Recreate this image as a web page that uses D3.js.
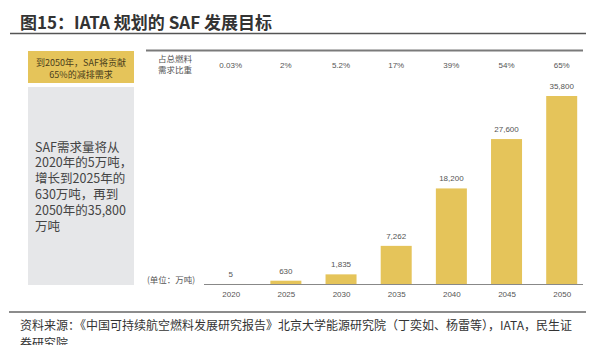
<!DOCTYPE html>
<html>
<head>
<meta charset="utf-8">
<script src="https://cdn.jsdelivr.net/npm/d3@7"></script>
<style>
  body { margin: 0; background: #fff; }
  svg { display: block; font-family: "Liberation Sans", Arial, "Noto Sans CJK SC", sans-serif; }
</style>
</head>
<body>
<svg width="597" height="345"></svg>
<script>
// data
let years = ["2020", "2025", "2030", "2035", "2040", "2045", "2050"];
let demand = [5, 630, 1835, 7262, 18200, 27600, 35800];
let demand_labels = ["5", "630", "1,835", "7,262", "18,200", "27,600", "35,800"];
let share_labels = ["0.03%", "2%", "5.2%", "17%", "39%", "54%", "65%"];

let note_lines = ["到2050年，SAF将贡献", "65%的减排需求"];
let box_lines = ["SAF需求量将从", "2020年的5万吨，", "增长到2025年的", "630万吨，再到", "2050年的35,800", "万吨"];

let bar_color = "#E5C45A";
let text_color = "#555";

let svg = d3.select("svg");

// titulo
svg.append("text")
  .attr("x", 20).attr("y", 29)
  .attr("font-size", 17).attr("font-weight", "bold")
  .attr("fill", "#333")
  .attr("font-family", "'Noto Sans CJK SC', sans-serif")
  .text("图15：IATA 规划的 SAF 发展目标");

svg.append("line")
  .attr("x1", 10).attr("x2", 586).attr("y1", 33.5).attr("y2", 33.5)
  .attr("stroke", "#555").attr("stroke-width", 1.5);

// caixas da esquerda
svg.append("rect")
  .attr("x", 28).attr("y", 51).attr("width", 106).attr("height", 32)
  .attr("fill", "#E5C45A");

svg.append("g")
  .selectAll("text")
  .data(note_lines)
  .join("text")
    .attr("x", 81)
    .attr("y", (d, i) => 66 + i * 11.5)
    .attr("text-anchor", "middle")
    .attr("font-size", 9)
    .attr("fill", "#4a3d1a")
    .attr("font-family", "'Noto Sans CJK SC', sans-serif")
    .text(d => d);

svg.append("rect")
  .attr("x", 28).attr("y", 87).attr("width", 106).attr("height", 198)
  .attr("fill", "#E6E7E9");

svg.append("g")
  .selectAll("text")
  .data(box_lines)
  .join("text")
    .attr("x", 35)
    .attr("y", (d, i) => 151.5 + i * 15.8)
    .attr("font-size", 12.5)
    .attr("fill", "#444")
    .attr("font-family", "'Noto Sans CJK SC', sans-serif")
    .text(d => d);

// escalas
let x = d3.scalePoint()
  .domain(years)
  .range([230.7, 561.7]);

let y = d3.scaleLinear()
  .domain([0, 35800])
  .range([284, 96]);

let bar_w = 31;

// linha superior
svg.append("line")
  .attr("x1", 146).attr("x2", 583).attr("y1", 50.5).attr("y2", 50.5)
  .attr("stroke", "#7a7a7a").attr("stroke-width", 2);

// linha de percentuais
svg.append("g")
  .selectAll("text")
  .data(["占总燃料", "需求比重"])
  .join("text")
    .attr("x", 175)
    .attr("y", (d, i) => 62 + i * 11)
    .attr("text-anchor", "middle")
    .attr("font-size", 8.5)
    .attr("fill", text_color)
    .attr("font-family", "'Noto Sans CJK SC', sans-serif")
    .text(d => d);

svg.append("g")
  .selectAll("text")
  .data(share_labels)
  .join("text")
    .attr("x", (d, i) => x(years[i]))
    .attr("y", 68)
    .attr("text-anchor", "middle")
    .attr("font-size", 8)
    .attr("fill", text_color)
    .text(d => d);

// barras
svg.append("g")
  .selectAll("rect")
  .data(demand)
  .join("rect")
    .attr("x", (d, i) => x(years[i]) - bar_w / 2)
    .attr("y", d => y(d))
    .attr("width", bar_w)
    .attr("height", d => y(0) - y(d))
    .attr("fill", bar_color);

svg.append("g")
  .selectAll("text")
  .data(demand_labels)
  .join("text")
    .attr("x", (d, i) => x(years[i]))
    .attr("y", (d, i) => y(demand[i]) - 7)
    .attr("text-anchor", "middle")
    .attr("font-size", 8)
    .attr("fill", text_color)
    .text(d => d);

// eixo x
let xAxis = d3.axisBottom(x).tickSize(0).tickPadding(7);
let gx = svg.append("g")
  .attr("transform", "translate(0," + y(0) + ")")
  .call(xAxis);
gx.select(".domain")
  .attr("d", "M204,0.5H583")
  .attr("stroke", "#888");
gx.selectAll("text")
  .attr("font-size", 8)
  .attr("fill", text_color)
  .attr("font-family", "'Liberation Sans', Arial, sans-serif");

svg.append("text")
  .attr("x", 147).attr("y", 283)
  .attr("font-size", 8.5)
  .attr("fill", text_color)
  .attr("font-family", "'Noto Sans CJK SC', sans-serif")
  .text("(单位：万吨)");

// rodape
svg.append("line")
  .attr("x1", 9).attr("x2", 586).attr("y1", 312).attr("y2", 312)
  .attr("stroke", "#666").attr("stroke-width", 1.5);

svg.append("g")
  .selectAll("text")
  .data(["资料来源：《中国可持续航空燃料发展研究报告》北京大学能源研究院（丁奕如、杨雷等），IATA，民生证", "券研究院"])
  .join("text")
    .attr("x", 20)
    .attr("y", (d, i) => 329.5 + i * 18)
    .attr("font-size", 12)
    .attr("fill", "#333")
    .attr("font-family", "'Noto Sans CJK SC', sans-serif")
    .text(d => d);
</script>
</body>
</html>
